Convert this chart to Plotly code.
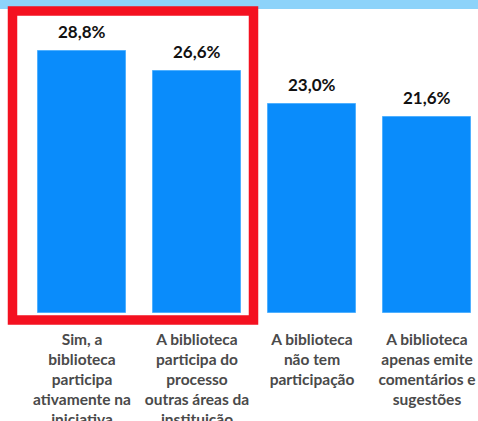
import plotly.graph_objects as go

categories = [
    "Sim, a<br>biblioteca<br>participa<br>ativamente na<br>iniciativa",
    "A biblioteca<br>participa do<br>processo<br>outras áreas da<br>instituição",
    "A biblioteca<br>não tem<br>participação",
    "A biblioteca<br>apenas emite<br>comentários e<br>sugestões",
]
values = [28.8, 26.6, 23.0, 21.6]
value_labels = ["28,8%", "26,6%", "23,0%", "21,6%"]

W, H = 478, 421
ML, MR, MT, MB = 25, 0, 0, 108
plot_w = W - ML - MR
plot_h = H - MT - MB
px_per_cat = 115.0
x0 = -57.0 / px_per_cat
x1 = x0 + plot_w / px_per_cat
px_per_unit = 262.0 / 28.8
y_top = plot_h / px_per_unit

xs = list(range(len(categories)))

fig = go.Figure()
fig.add_trace(go.Bar(
    x=xs, y=values, width=88 / px_per_cat,
    marker=dict(color="#0A8CFB", line=dict(color="#4FB0FF", width=1)),
    hoverinfo="skip",
))

for xi, v, lab in zip(xs, values, value_labels):
    fig.add_annotation(x=xi, y=v, text="<b>" + lab + "</b>", showarrow=False,
                       yanchor="bottom", yshift=7,
                       font=dict(family="Lato, sans-serif", size=17, color="#111111"))


def xpaper(px):
    return (px - ML) / plot_w


def ypaper(py):
    return (H - MB - py) / plot_h


# light blue strip at top
fig.add_shape(type="rect", xref="paper", yref="paper", x0=xpaper(-5), x1=xpaper(W + 5),
              y0=ypaper(9), y1=ypaper(-5),
              fillcolor="#8DD3FA", line=dict(width=0), layer="below")
# red highlight box
fig.add_shape(type="rect", xref="paper", yref="paper",
              x0=xpaper(12.5), x1=xpaper(253.5), y0=ypaper(320), y1=ypaper(11),
              line=dict(color="#F41120", width=9.5), fillcolor="rgba(0,0,0,0)")

fig.update_layout(
    width=W, height=H,
    margin=dict(l=ML, r=MR, t=MT, b=MB, autoexpand=False),
    paper_bgcolor="white", plot_bgcolor="white",
    showlegend=False, bargap=0,
    xaxis=dict(range=[x0, x1], tickmode="array", tickvals=xs,
               ticktext=["<b>" + c.replace("<br>", "</b><br><b>") + "</b>" for c in categories],
               showgrid=False, zeroline=False, showline=False, ticks="", automargin=False,
               tickfont=dict(family="Lato, sans-serif", size=15.5, color="#4A4A4A"),
               ticklabelstandoff=15),
    yaxis=dict(range=[0, y_top], visible=False, automargin=False),
)
fig.write_html("out.html", config={"displayModeBar": False},
               post_script="document.body.style.margin='0';document.body.style.overflow='hidden';")
